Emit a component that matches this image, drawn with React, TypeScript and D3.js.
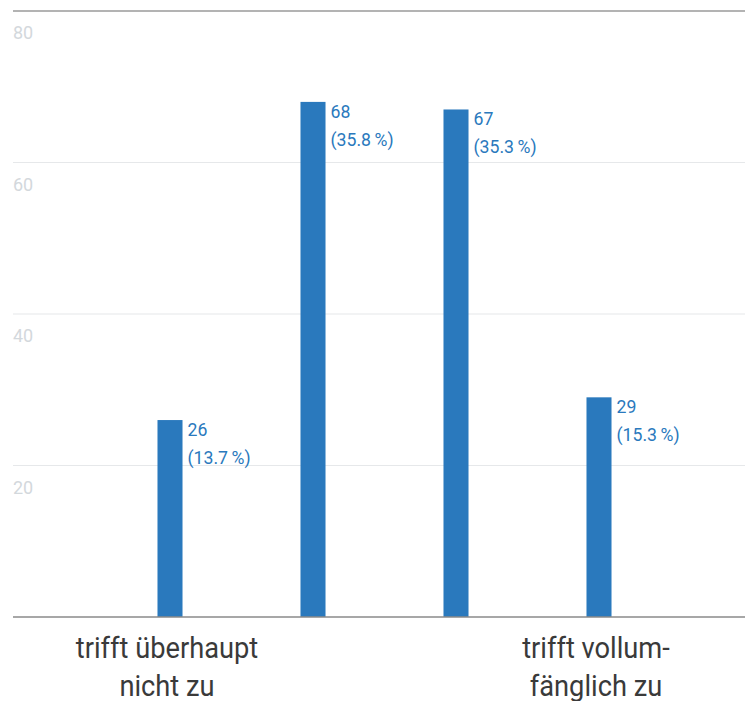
import React from "react";
import * as d3 from "d3";

const categories = ["1", "2", "3", "4"];
const values = [26, 68, 67, 29];
const percents = ["13.7", "35.8", "35.3", "15.3"];
const xLabels: string[][] = [["trifft überhaupt", "nicht zu"], [], [], ["trifft vollum-", "fänglich zu"]];
const yTicks = [20, 40, 60, 80];

const W = 745;
const H = 701;
const BLUE = "#2a79bd";
const FONT = "Roboto, 'Noto Sans', sans-serif";

export default function App() {
  const y = d3.scaleLinear().domain([0, 80]).range([617, 11]);
  const x = d3
    .scaleBand<string>()
    .domain(categories)
    .range([98.5, 670.5])
    .paddingInner(0.825)
    .paddingOuter(0.4125);
  const bw = x.bandwidth();
  const SXV = 0.93;
  const SXL = 0.94;

  return (
    <svg width={W} height={H} style={{ position: "absolute", left: 0, top: 0, background: "#fff" }}>
      {yTicks.map((t) => (
        <g key={t}>
          <line
            x1={13}
            x2={W}
            y1={y(t)}
            y2={y(t)}
            stroke={t === 80 ? "#9a9a9a" : "#e6e8ea"}
            strokeWidth={t === 80 ? 1.6 : 1.2}
          />
          <text x={13} y={y(t) + 28} fill="#d3d8dc" fontFamily={FONT} fontSize={18}>
            {t}
          </text>
        </g>
      ))}
      {categories.map((c, i) => {
        const x0 = x(c) as number;
        const top = y(values[i]);
        const lx = x0 + bw + 5;
        return (
          <g key={c}>
            <rect x={x0} y={top} width={bw} height={y(0) - top} fill={BLUE} />
            <g transform={`translate(${lx},0) scale(${SXV},1) translate(${-lx},0)`}>
              <text x={lx} y={top + 16} fill={BLUE} fontFamily={FONT} fontSize={19}>
                {values[i]}
              </text>
              <text x={lx} y={top + 44} fill={BLUE} fontFamily={FONT} fontSize={19}>
                {`(${percents[i]}\u2009%)`}
              </text>
            </g>
          </g>
        );
      })}
      <line x1={13} x2={W} y1={y(0)} y2={y(0)} stroke="#8a8a8a" strokeWidth={1.5} />
      {categories.map((c, i) => {
        const cx = (x(c) as number) + bw / 2 - 3;
        return (
          <g key={"l" + c} transform={`translate(${cx},0) scale(${SXL},1) translate(${-cx},0)`}>
            {xLabels[i].map((line, j) => (
              <text
                key={j}
                x={cx}
                y={658 + j * 38}
                textAnchor="middle"
                fill="#3a3a3a"
                fontFamily={FONT}
                fontSize={29}
              >
                {line}
              </text>
            ))}
          </g>
        );
      })}
    </svg>
  );
}
